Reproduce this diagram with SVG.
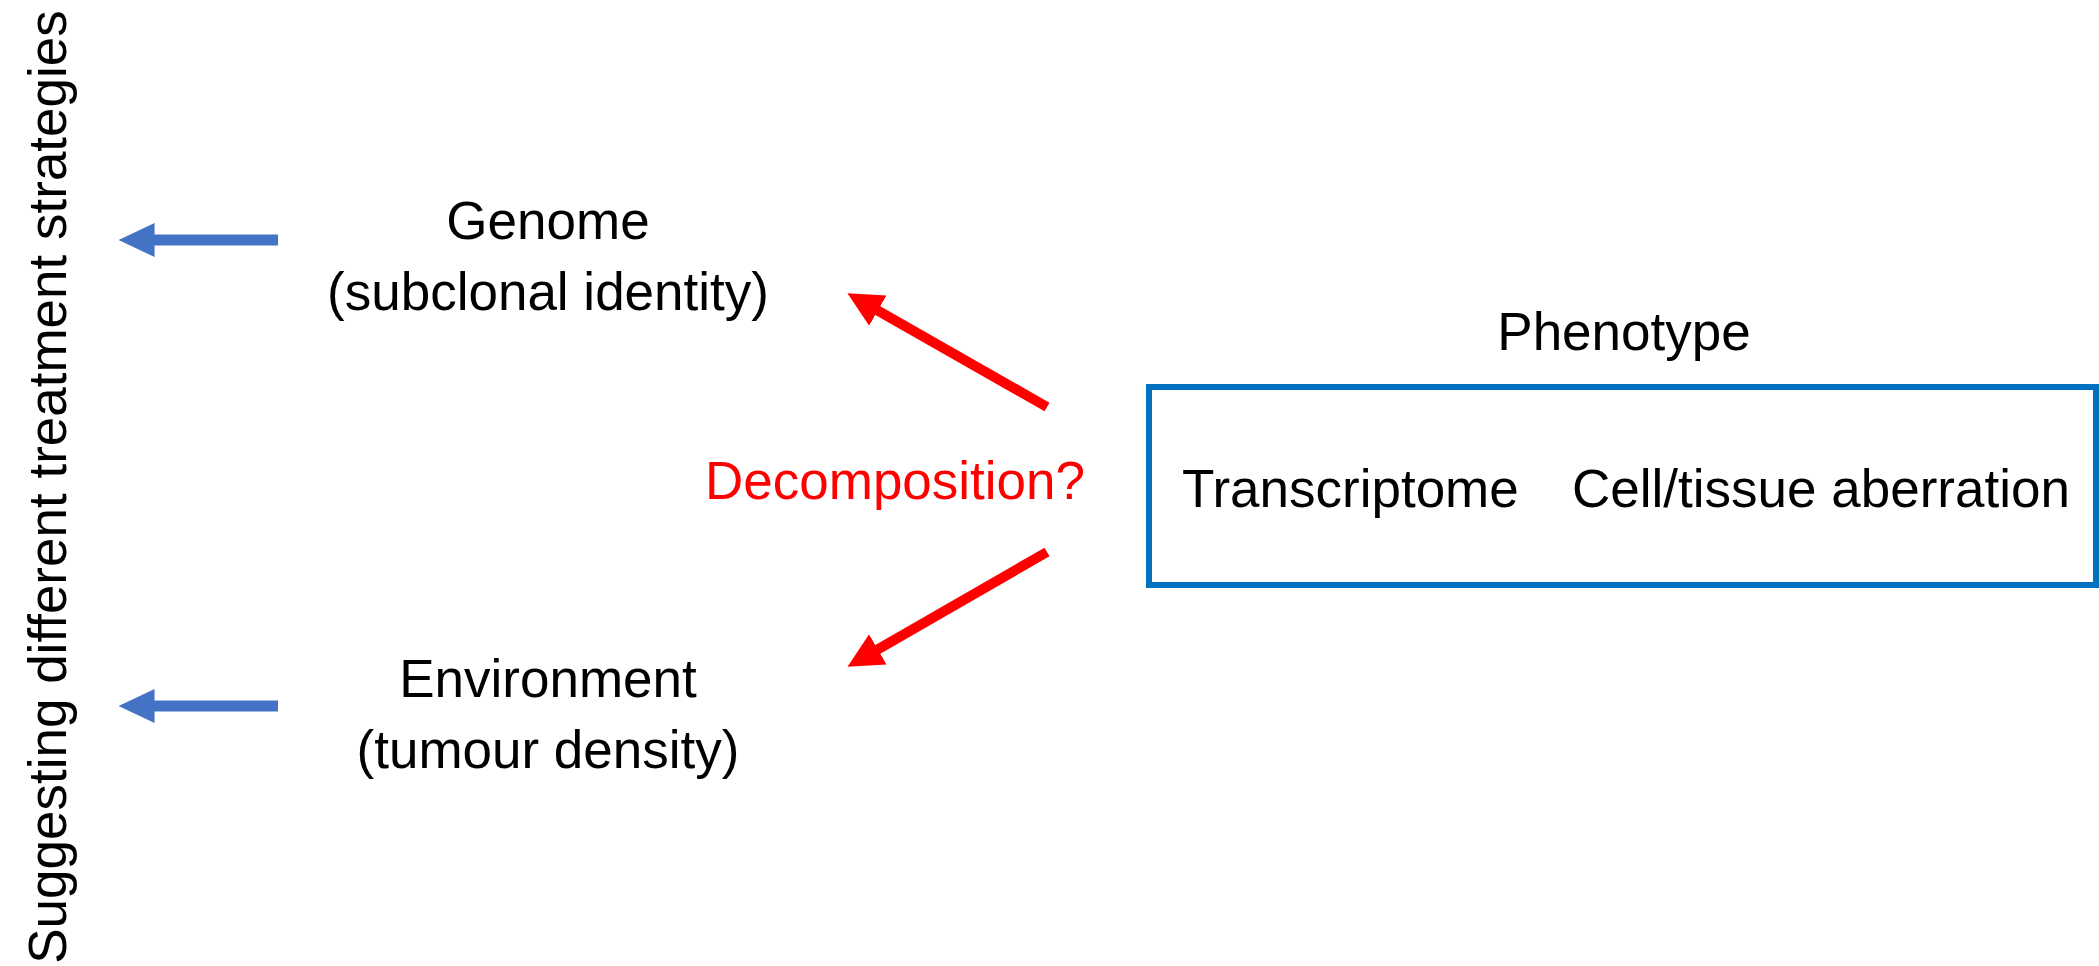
<svg xmlns="http://www.w3.org/2000/svg" width="2099" height="966" viewBox="0 0 2099 966">
<style>
text{font-family:"Liberation Sans",Arial,sans-serif;font-size:53px;fill:#000}
.red{fill:#FF0000}
.blue-line{stroke:#4472C4;stroke-width:11;fill:none}
.red-line{stroke:#FF0000;stroke-width:10;fill:none}
</style>
<defs>
<marker id="bh" viewBox="0 -2 4 4" refX="0.05" refY="0" markerWidth="4" markerHeight="4" markerUnits="strokeWidth" orient="auto">
<path d="M0,-1.55 L3.27,0 L0,1.55 z" fill="#4472C4"/>
</marker>
<marker id="rh" viewBox="0 -2 4 4" refX="0.05" refY="0" markerWidth="4" markerHeight="4" markerUnits="strokeWidth" orient="auto">
<path d="M0,-1.75 L3.5,0 L0,1.75 z" fill="#FF0000"/>
</marker>
</defs>
<g id="side-label"><text transform="translate(66,487) rotate(-90)" text-anchor="middle" font-size="53.5">Suggesting different treatment strategies</text></g>
<g id="genome"><text x="548" y="239" text-anchor="middle">Genome</text><text x="548" y="310" text-anchor="middle">(subclonal identity)</text></g>
<g id="environment"><text x="548" y="697" text-anchor="middle">Environment</text><text x="548" y="768" text-anchor="middle">(tumour density)</text></g>
<g id="decomposition"><text class="red" x="705" y="499">Decomposition?</text></g>
<g id="phenotype-title"><text x="1624" y="350" text-anchor="middle">Phenotype</text></g>
<g id="phenotype"><rect x="1149" y="387" width="947" height="198" fill="none" stroke="#0070C0" stroke-width="6"/><text x="1182" y="507">Transcriptome</text><text x="1572" y="507" font-size="54">Cell/tissue aberration</text></g>
<g id="connectors">
<line class="blue-line" x1="278" y1="240" x2="154" y2="240" marker-end="url(#bh)"/>
<line class="blue-line" x1="278" y1="706" x2="154" y2="706" marker-end="url(#bh)"/>
<line class="red-line" x1="1047" y1="407" x2="877.4" y2="310.4" marker-end="url(#rh)"/>
<line class="red-line" x1="1047" y1="552" x2="877.4" y2="649.6" marker-end="url(#rh)"/>
</g>
</svg>
